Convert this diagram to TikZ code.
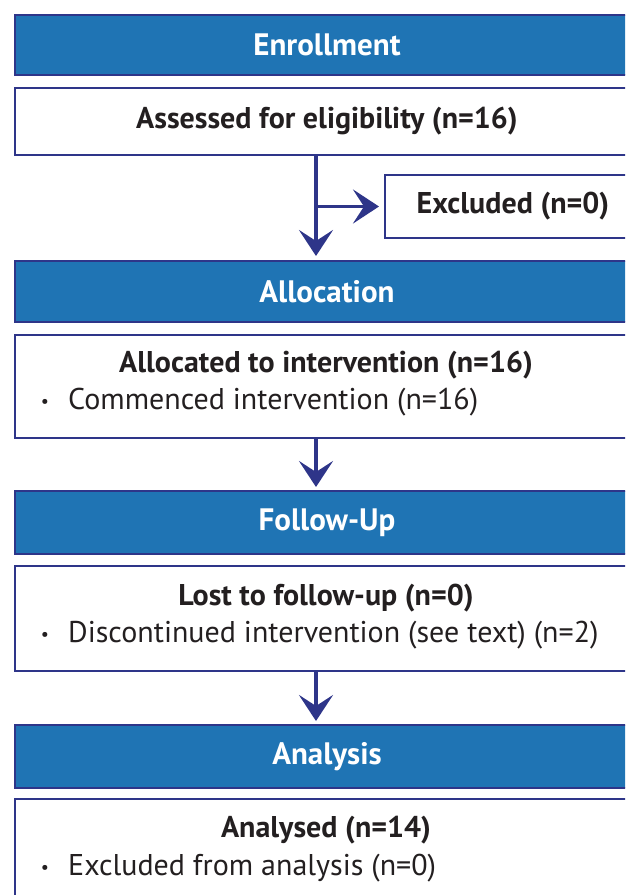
\documentclass[tikz,border=0pt]{standalone}
\usepackage{fontspec}
\setmainfont{PT Sans}
\usetikzlibrary{arrows.meta}
\definecolor{hdr}{HTML}{1F74B4}
\definecolor{edge}{HTML}{2E3589}
\definecolor{ink}{HTML}{231F20}
\begin{document}
\begin{tikzpicture}[x=1pt,y=-1pt,
  hdrbox/.style={draw=edge, line width=2pt, fill=hdr, anchor=north west, inner sep=0pt,
    minimum width=624pt, text=white, font=\fontsize{31}{36}\selectfont\bfseries},
  whitebox/.style={draw=edge, line width=2pt, fill=white, anchor=north west, inner sep=0pt,
    minimum width=624pt, text=ink, font=\fontsize{30}{36}\selectfont\bfseries},
  boldtxt/.style={text=ink, inner sep=0pt, font=\fontsize{30}{36}\selectfont\bfseries},
  plaintxt/.style={text=ink, inner sep=0pt, anchor=west, font=\fontsize{30}{36}\selectfont},
  bullettxt/.style={text=ink, inner sep=0pt, font=\fontsize{18}{22}\selectfont},
  arr/.style={draw=edge, line width=3.5pt, -{Stealth[length=26pt, width=34pt, inset=11pt]}}
]
\useasboundingbox (0,0) rectangle (625,895);
\clip (0,0) rectangle (625,895);
\fill[white] (0,0) rectangle (625,895);
% Enrollment
\node[hdrbox, minimum height=60pt] (enr) at (14,14) {Enrollment};
\node[whitebox, minimum height=67pt] (assess) at (14,87) {Assessed for eligibility (n=16)};
\node[whitebox, minimum width=256pt, minimum height=63pt] (excl) at (384,174) {Excluded (n=0)};
% Allocation
\node[hdrbox, minimum height=61pt] (alloc) at (14,260) {Allocation};
\node[whitebox, minimum height=103pt] (allocbox) at (14,334) {};
\node[boldtxt] (allocT) at (326,365) {Allocated to intervention (n=16)};
\node[bullettxt] (allocB) at (45,403) {\textbullet};
\node[plaintxt] (allocL) at (68,402) {Commenced intervention (n=16)};
% Follow-up
\node[hdrbox, minimum height=63pt] (fu) at (14,490) {Follow-Up};
\node[whitebox, minimum height=105pt] (fubox) at (14,565) {};
\node[boldtxt] (fuT) at (326,598) {Lost to follow-up (n=0)};
\node[bullettxt] (fuB) at (45,636) {\textbullet};
\node[plaintxt] (fuL) at (68,635) {Discontinued intervention (see text) (n=2)};
% Analysis
\node[hdrbox, minimum height=63pt] (ana) at (14,724) {Analysis};
\node[whitebox, minimum height=130pt] (anabox) at (14,798) {};
\node[boldtxt] (anaT) at (326,830) {Analysed (n=14)};
\node[bullettxt] (anaB) at (45,869) {\textbullet};
\node[plaintxt] (anaL) at (68,868) {Excluded from analysis (n=0)};
% connectors
\coordinate (a1) at (316,154);
\coordinate (a2) at (316,437);
\coordinate (a3) at (316,670);
\draw[arr, shorten >=4pt] (a1) -- (a1 |- alloc.north);
\draw[arr, shorten >=5pt] (a1 |- excl.west) -- (excl.west);
\draw[arr, shorten >=3pt] (a2) -- (a2 |- fu.north);
\draw[arr, shorten >=3pt] (a3) -- (a3 |- ana.north);
\end{tikzpicture}
\end{document}
